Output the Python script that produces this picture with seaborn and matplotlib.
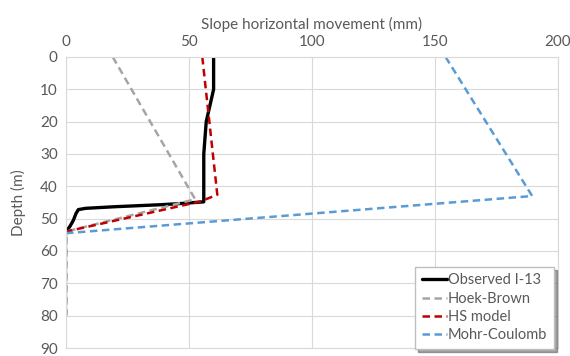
import matplotlib
matplotlib.use("Agg")
from matplotlib import pyplot as plt
import seaborn as sns

# depth (m) and horizontal movement (mm) for each series
obs_depth = [0, 10, 20, 30, 40, 44.8, 45.4, 45.7, 46.3, 46.8, 47.2, 48.5, 50.5, 52.5, 54]
obs_move = [60, 60, 57, 56, 56, 56, 45, 38, 20, 8, 5, 4, 3, 1.5, 0]

hb_depth = [0, 44, 54, 80]
hb_move = [19, 52.5, 0, 0]

hs_depth = [0, 42.6, 44.7, 54, 80]
hs_move = [55.4, 61.5, 54.5, 0, 0]

mc_depth = [0, 43, 54.5, 80]
mc_move = [154.3, 189.5, 0, 0]

x_ticks = [0, 50, 100, 150, 200]
y_ticks = [0, 10, 20, 30, 40, 50, 60, 70, 80, 90]

sns.set_style("white")
plt.rcParams['font.family'] = ['Lato', 'DejaVu Sans']

fig = plt.figure(figsize=(5.7, 3.56), dpi=100)
ax = fig.add_axes([0.1158, 1 - 348 / 356, 0.979 - 0.1158, (348 - 57) / 356])

sns.lineplot(x=obs_move, y=obs_depth, sort=False, estimator=None, ax=ax,
             color='black', linewidth=2.4, label='Observed I-13')
sns.lineplot(x=hb_move, y=hb_depth, sort=False, estimator=None, ax=ax,
             color='#a5a5a5', linewidth=1.8, label='Hoek-Brown')
sns.lineplot(x=hs_move, y=hs_depth, sort=False, estimator=None, ax=ax,
             color='#c00000', linewidth=1.8, label='HS model')
sns.lineplot(x=mc_move, y=mc_depth, sort=False, estimator=None, ax=ax,
             color='#5b9bd5', linewidth=1.8, label='Mohr-Coulomb')

for ln in ax.get_lines()[1:4]:
    ln.set_linestyle((0, (3, 1.8)))

ax.set_xlim(0, 200)
ax.set_ylim(90, 0)
ax.set_xticks(x_ticks)
ax.set_yticks(y_ticks)
ax.xaxis.tick_top()
ax.xaxis.set_label_position('top')
ax.tick_params(length=0, labelsize=11, labelcolor='#595959', pad=6)
ax.set_xlabel('Slope horizontal movement (mm)', fontsize=11, color='#595959', labelpad=4)
ax.set_ylabel('Depth (m)', fontsize=11, color='#595959', labelpad=10)
ax.grid(True, color='#d9d9d9', linewidth=0.8)
for s in ax.spines.values():
    s.set_color('#d9d9d9')
    s.set_linewidth(0.8)

leg = ax.legend(loc='lower right', bbox_to_anchor=(554 / 570, 1 - 349 / 356),
                bbox_transform=fig.transFigure, borderaxespad=0,
                fontsize=10.5, frameon=True, fancybox=False, shadow=True,
                handlelength=1.7, handletextpad=0.1, labelspacing=0.3,
                borderpad=0.45)
leg.get_frame().set_edgecolor('#bfbfbf')
for t in leg.get_texts():
    t.set_color('#595959')

fig.savefig('out.png', dpi=100)
